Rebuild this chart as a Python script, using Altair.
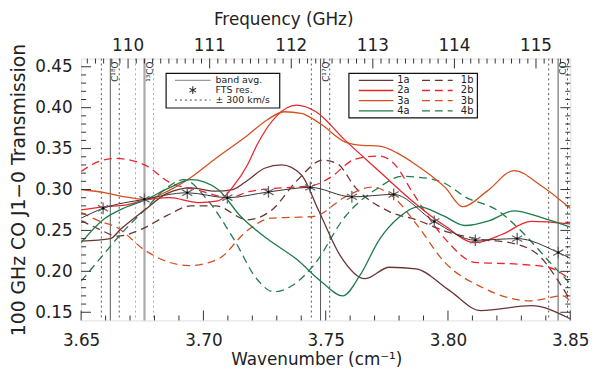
import altair as alt
import pandas as pd

# ---------------- data ----------------
x_1a = [3.650, 3.662, 3.666, 3.676, 3.685, 3.695, 3.705, 3.712, 3.718, 3.725, 3.732, 3.740, 3.747, 3.756, 3.766, 3.776, 3.787, 3.800, 3.8135, 3.834, 3.850]
y_1a = [0.237, 0.240, 0.251, 0.275, 0.295, 0.302, 0.298, 0.300, 0.311, 0.326, 0.330, 0.318, 0.275, 0.219, 0.191, 0.205, 0.203, 0.178, 0.152, 0.158, 0.142]

x_2a = [3.650, 3.660, 3.668, 3.676, 3.686, 3.698, 3.706, 3.7125, 3.718, 3.722, 3.730, 3.738, 3.746, 3.758, 3.772, 3.785, 3.799, 3.811, 3.822, 3.834, 3.850]
y_2a = [0.275, 0.279, 0.281, 0.287, 0.290, 0.284, 0.286, 0.305, 0.330, 0.355, 0.390, 0.403, 0.395, 0.360, 0.322, 0.287, 0.255, 0.235, 0.245, 0.261, 0.258]

x_3a = [3.650, 3.660, 3.668, 3.676, 3.686, 3.695, 3.705, 3.718, 3.726, 3.733, 3.740, 3.748, 3.758, 3.765, 3.772, 3.779, 3.787, 3.799, 3.806, 3.816, 3.827, 3.838, 3.850]
y_3a = [0.300, 0.296, 0.291, 0.288, 0.299, 0.315, 0.338, 0.366, 0.385, 0.395, 0.393, 0.380, 0.358, 0.354, 0.353, 0.345, 0.330, 0.302, 0.279, 0.298, 0.323, 0.305, 0.277]

x_4a = [3.650, 3.659, 3.668, 3.676, 3.686, 3.695, 3.706, 3.715, 3.726, 3.738, 3.748, 3.757, 3.764, 3.772, 3.780, 3.788, 3.798, 3.807, 3.817, 3.827, 3.838, 3.850]
y_4a = [0.235, 0.263, 0.278, 0.287, 0.302, 0.312, 0.300, 0.268, 0.240, 0.215, 0.188, 0.170, 0.195, 0.239, 0.266, 0.279, 0.268, 0.256, 0.262, 0.274, 0.266, 0.254]

x_1b = [3.650, 3.657, 3.665, 3.675, 3.685, 3.695, 3.705, 3.718, 3.728, 3.738, 3.749, 3.755, 3.762, 3.776, 3.787, 3.800, 3.8135, 3.827, 3.838, 3.846, 3.850]
y_1b = [0.262, 0.252, 0.243, 0.252, 0.268, 0.280, 0.280, 0.263, 0.275, 0.310, 0.336, 0.331, 0.303, 0.273, 0.263, 0.248, 0.239, 0.234, 0.217, 0.184, 0.165]

x_2b = [3.650, 3.657, 3.664, 3.676, 3.686, 3.698, 3.711, 3.718, 3.728, 3.738, 3.745, 3.752, 3.762, 3.772, 3.779, 3.785, 3.799, 3.811, 3.827, 3.841, 3.850]
y_2b = [0.322, 0.334, 0.338, 0.330, 0.309, 0.299, 0.290, 0.297, 0.301, 0.303, 0.305, 0.315, 0.337, 0.341, 0.328, 0.299, 0.239, 0.211, 0.209, 0.205, 0.190]

x_3b = [3.650, 3.657, 3.665, 3.6755, 3.686, 3.694, 3.706, 3.718, 3.7276, 3.737, 3.745, 3.758, 3.769, 3.778, 3.787, 3.799, 3.8135, 3.8337, 3.847, 3.850]
y_3b = [0.272, 0.262, 0.253, 0.227, 0.211, 0.207, 0.215, 0.250, 0.265, 0.266, 0.267, 0.291, 0.303, 0.290, 0.258, 0.210, 0.181, 0.164, 0.170, 0.163]

x_4b = [3.650, 3.6587, 3.6667, 3.6759, 3.685, 3.692, 3.7017, 3.7125, 3.722, 3.7287, 3.736, 3.745, 3.758, 3.772, 3.781, 3.788, 3.799, 3.807, 3.820, 3.832, 3.842, 3.850]
y_4b = [0.188, 0.219, 0.247, 0.275, 0.302, 0.312, 0.287, 0.239, 0.190, 0.175, 0.182, 0.207, 0.267, 0.303, 0.316, 0.315, 0.307, 0.291, 0.275, 0.243, 0.210, 0.185]

x_avg = [3.650, 3.659, 3.6759, 3.6934, 3.7098, 3.7266, 3.7437, 3.7607, 3.7778, 3.7944, 3.8112, 3.8283, 3.8451, 3.850]
y_avg = [0.265, 0.277, 0.288, 0.296, 0.290, 0.297, 0.3026, 0.291, 0.294, 0.261, 0.238, 0.240, 0.223, 0.216]

x_fts = [3.659, 3.6759, 3.6934, 3.7098, 3.7266, 3.7437, 3.7607, 3.7778, 3.7944, 3.8112, 3.8283, 3.8451]
y_fts = [0.277, 0.288, 0.296, 0.290, 0.297, 0.3026, 0.291, 0.294, 0.261, 0.238, 0.240, 0.223]

line_names = ["C¹⁸O", "¹³CO", "C¹⁷O", "CO"]
line_ghz = [109.782, 110.201, 112.359, 115.271]

x_major = [3.65, 3.70, 3.75, 3.80, 3.85]
x_minor = [3.66, 3.67, 3.68, 3.69, 3.71, 3.72, 3.73, 3.74, 3.76, 3.77, 3.78, 3.79, 3.81, 3.82, 3.83, 3.84]
y_major = [0.15, 0.20, 0.25, 0.30, 0.35, 0.40, 0.45]
y_minor = [0.16, 0.17, 0.18, 0.19, 0.21, 0.22, 0.23, 0.24, 0.26, 0.27, 0.28, 0.29,
           0.31, 0.32, 0.33, 0.34, 0.36, 0.37, 0.38, 0.39, 0.41, 0.42, 0.43, 0.44]
freq_major = [110, 111, 112, 113, 114, 115]
freq_minor = [f / 10 for f in range(1095, 1155) if f % 10 != 0]

legend_info = ["band avg.", "FTS res.", "± 300 km/s"]
legend_a = ["1a", "2a", "3a", "4a"]
legend_b = ["1b", "2b", "3b", "4b"]

# ---------------- styling ----------------
W, H = 495, 265
FONT = "DejaVu Sans"
TXT = "#222222"
AXC = "#333333"
C1, C2, C3, C4 = "#6b3535", "#e8262b", "#d4501e", "#1f7a4c"
COLS = [C1, C2, C3, C4]
DASH = [8, 5]

xs = alt.Scale(domain=[3.65, 3.85], nice=False, zero=False)
ys = alt.Scale(domain=[0.14, 0.46], nice=False, zero=False)

xax = alt.Axis(values=x_major, format=".2f", ticks=False, domain=False, grid=False,
               labelFontSize=17, labelPadding=12, labelFlush=False, labelOverlap=False,
               labelColor=TXT, labelFont=FONT,
               title="Wavenumber (cm⁻¹)", titleFont=FONT, titleFontSize=17,
               titleFontWeight="normal", titleColor=TXT, titlePadding=4, titleX=238)
yax = alt.Axis(values=y_major, format=".2f", ticks=False, domain=False, grid=False,
               labelFontSize=17, labelPadding=9, labelColor=TXT, labelFont=FONT,
               title="100 GHz CO J1−0 Transmission", titleFont=FONT, titleFontSize=19,
               titleFontWeight="normal", titleColor=TXT, titlePadding=6)


def X(f):
    return alt.X(f, type="quantitative", scale=xs, axis=xax)


def Y(f):
    return alt.Y(f, type="quantitative", scale=ys, axis=yax)


one = pd.DataFrame({"a": [0]})
layers = []

# ---------------- vertical CO lines ----------------
vl = (alt.Chart(pd.DataFrame({"name": line_names, "ghz": line_ghz}))
      .transform_calculate(wn="datum.ghz / 29.9792458")
      .transform_calculate(lo="datum.wn * (1 - 300/299792.458)")
      .transform_calculate(hi="datum.wn * (1 + 300/299792.458)")
      .transform_calculate(tx="datum.wn + 0.0005"))
is13 = "datum.name == '¹³CO'"
vcol = alt.condition(is13, alt.value("#aaaaaa"), alt.value("#555555"))
vw = alt.condition(is13, alt.value(2.2), alt.value(1.0))
layers.append(vl.mark_rule().encode(x=X("wn"), color=vcol, strokeWidth=vw))
for fld in ["lo", "hi"]:
    layers.append(vl.mark_rule(strokeDash=[2, 3], strokeWidth=1).encode(x=X(fld), color=vcol))
layers.append(vl.mark_text(angle=270, align="right", baseline="top", fontSize=9,
                           font=FONT, color="#333333")
              .encode(x=X("tx"), y=alt.value(3), text="name:N"))

# ---------------- curves ----------------
curves = [(x_1b, y_1b, C1, True), (x_2b, y_2b, C2, True), (x_3b, y_3b, C3, True), (x_4b, y_4b, C4, True),
          (x_1a, y_1a, C1, False), (x_2a, y_2a, C2, False), (x_3a, y_3a, C3, False), (x_4a, y_4a, C4, False)]
for xv, yv, col, dashed in curves:
    kw = dict(color=col, strokeWidth=1.3, interpolate="monotone", clip=True)
    if dashed:
        kw["strokeDash"] = DASH
    layers.append(alt.Chart(pd.DataFrame({"x": xv, "y": yv})).mark_line(**kw)
                  .encode(x=X("x"), y=Y("y")))

layers.append(alt.Chart(pd.DataFrame({"x": x_avg, "y": y_avg}))
              .mark_line(color="#333333", strokeWidth=1, interpolate="monotone", clip=True)
              .encode(x=X("x"), y=Y("y")))

STAR = "M0,-1L0,1M-0.866,-0.5L0.866,0.5M-0.866,0.5L0.866,-0.5"
fts = alt.Chart(pd.DataFrame({"x": x_fts, "y": y_fts}))
layers.append(fts.mark_point(shape=STAR, size=140, filled=False, strokeWidth=1.3, color="#666666", opacity=1)
              .encode(x=X("x"), y=Y("y")))
layers.append(fts.mark_point(shape="circle", size=6, filled=True, color="#000000", opacity=1)
              .encode(x=X("x"), y=Y("y")))

# ---------------- ticks (inward, IDL style) ----------------
def xticks(vals, length):
    return alt.Chart(pd.DataFrame({"v": vals})).mark_rule(color=AXC, strokeWidth=1).encode(
        x=X("v"), y=alt.value(H), y2=alt.value(H - length))


def fticks(vals, length):
    return (alt.Chart(pd.DataFrame({"f": vals}))
            .transform_calculate(wn="datum.f / 29.9792458")
            .mark_rule(color=AXC, strokeWidth=1)
            .encode(x=X("wn"), y=alt.value(0), y2=alt.value(length)))


def yticks(vals, length):
    d = alt.Chart(pd.DataFrame({"v": vals}))
    return [d.mark_rule(color=AXC, strokeWidth=1).encode(y=Y("v"), x=alt.value(0), x2=alt.value(length)),
            d.mark_rule(color=AXC, strokeWidth=1).encode(y=Y("v"), x=alt.value(W), x2=alt.value(W - length))]


layers += [xticks(x_major, 10), xticks(x_minor, 5), fticks(freq_major, 10), fticks(freq_minor, 5)]
layers += yticks(y_major, 10) + yticks(y_minor, 5)

# ---------------- top axis labels / title ----------------
layers.append(alt.Chart(pd.DataFrame({"f": freq_major}))
              .transform_calculate(wn="datum.f / 29.9792458")
              .mark_text(fontSize=17, font=FONT, color=TXT, baseline="bottom")
              .encode(x=X("wn"), y=alt.value(-4), text=alt.Text("f:Q", format="d")))
layers.append(alt.Chart(one).mark_text(fontSize=17, font=FONT, color=TXT, baseline="middle")
              .encode(x=alt.value(205), y=alt.value(-39), text=alt.value("Frequency (GHz)")))

# ---------------- legend 1 ----------------
L1x0, L1x1, L1y0, L1y1 = 86, 201, 15, 50
layers.append(alt.Chart(one).mark_rect(fill="white", stroke="#111111", strokeWidth=1.2).encode(
    x=alt.value(L1x0), x2=alt.value(L1x1), y=alt.value(L1y0), y2=alt.value(L1y1)))
layers.append(alt.Chart(one).mark_rule(color="#999999", strokeWidth=1.3).encode(
    x=alt.value(95), x2=alt.value(131), y=alt.value(22)))
layers.append(alt.Chart(one).mark_point(shape=STAR, size=60, filled=False, strokeWidth=1.1, color="#333333", opacity=1).encode(
    x=alt.value(113), y=alt.value(32)))
layers.append(alt.Chart(one).mark_rule(color="#444444", strokeWidth=1, strokeDash=[2, 3]).encode(
    x=alt.value(95), x2=alt.value(131), y=alt.value(42)))
for i, t in enumerate(legend_info):
    layers.append(alt.Chart(one).mark_text(fontSize=9.5, font=FONT, color=TXT, align="left", baseline="middle")
                  .encode(x=alt.value(136), y=alt.value(22 + 10 * i), text=alt.value(t)))

# ---------------- legend 2 ----------------
L2x0, L2x1, L2y0, L2y1 = 271, 401, 15, 60
layers.append(alt.Chart(one).mark_rect(fill="white", stroke="#111111", strokeWidth=1.2).encode(
    x=alt.value(L2x0), x2=alt.value(L2x1), y=alt.value(L2y0), y2=alt.value(L2y1)))
for i in range(4):
    yy = 22 + 10.3 * i
    layers.append(alt.Chart(one).mark_rule(color=COLS[i], strokeWidth=1.3).encode(
        x=alt.value(281), x2=alt.value(316), y=alt.value(yy)))
    layers.append(alt.Chart(one).mark_rule(color=COLS[i], strokeWidth=1.3, strokeDash=DASH).encode(
        x=alt.value(345), x2=alt.value(376), y=alt.value(yy)))
    layers.append(alt.Chart(one).mark_text(fontSize=10, font=FONT, color=TXT, align="left", baseline="middle")
                  .encode(x=alt.value(320), y=alt.value(yy), text=alt.value(legend_a[i])))
    layers.append(alt.Chart(one).mark_text(fontSize=10, font=FONT, color=TXT, align="right", baseline="middle")
                  .encode(x=alt.value(397), y=alt.value(yy), text=alt.value(legend_b[i])))

chart = (alt.layer(*layers)
         .properties(width=W, height=H,
                     padding={"left": 74, "top": 49, "right": 22, "bottom": 50},
                     autosize=alt.AutoSizeParams(type="none"))
         .configure_view(stroke=AXC, strokeWidth=1)
         .configure(background="white"))

chart.save("out.html", embed_options={"renderer": "svg", "actions": False})
